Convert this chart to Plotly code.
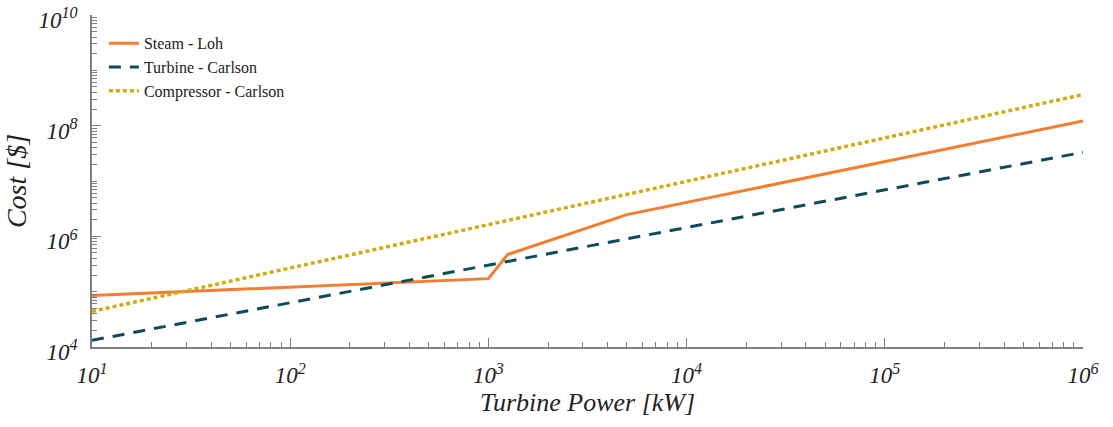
import plotly.graph_objects as go

# Data
steam_x = [10, 1000, 1250, 5000, 1e6]
steam_y = [8.5e4, 1.72e5, 4.7e5, 2.47e6, 1.22e8]
turbine_x = [10, 1e6]
turbine_y = [1.32e4, 3.3e7]
compressor_x = [10, 1e6]
compressor_y = [4.4e4, 3.65e8]

x_major = [10, 100, 1000, 1e4, 1e5, 1e6]
x_labels = ["10<sup>1</sup>", "10<sup>2</sup>", "10<sup>3</sup>", "10<sup>4</sup>", "10<sup>5</sup>", "10<sup>6</sup>"]
y_major = [1e4, 1e6, 1e8, 1e10]
y_labels = ["10<sup>4</sup>", "10<sup>6</sup>", "10<sup>8</sup>", "10<sup>10</sup>"]

x_minor = [m * 10 ** k for k in range(1, 6) for m in range(2, 10)]
y_minor = [m * 10 ** k for k in range(4, 10) for m in range(1, 10) if not (m == 1 and k % 2 == 0)]

fig = go.Figure()
fig.add_trace(go.Scatter(x=steam_x, y=steam_y, mode="lines", name="Steam - Loh",
                         line=dict(color="#F47D30", width=3)))
fig.add_trace(go.Scatter(x=turbine_x, y=turbine_y, mode="lines", name="Turbine - Carlson",
                         line=dict(color="#0E4B5A", width=3, dash="12px,9px")))
fig.add_trace(go.Scatter(x=compressor_x, y=compressor_y, mode="lines", name="Compressor - Carlson",
                         line=dict(color="#D4AA14", width=3.5, dash="4px,3px")))

serif = "Liberation Serif, Times New Roman, serif"
tick_font = dict(family=serif, size=23, color="#222222", style="italic")
xtitle_font = dict(family=serif, size=26, color="#222222", style="italic")
ytitle_font = dict(family=serif, size=28, color="#222222", style="italic")

fig.update_layout(
    template="none",
    width=1113, height=427,
    margin=dict(l=92, r=30, t=15, b=80),
    paper_bgcolor="white", plot_bgcolor="white",
    font=dict(family=serif, color="#222222"),
    showlegend=True,
    legend=dict(x=0.012, y=0.966, xanchor="left", yanchor="top",
                font=dict(family=serif, size=16, color="#222222"),
                bgcolor="rgba(255,255,255,0)", tracegroupgap=0),
    xaxis=dict(type="log", range=[1, 6], showgrid=False, zeroline=False, automargin=False,
               showline=True, linecolor="#7f7f7f", linewidth=1.5, mirror=False,
               tickmode="array", tickvals=x_major, ticktext=x_labels,
               ticks="inside", ticklen=9, tickcolor="#7f7f7f", tickwidth=1,
               tickfont=tick_font, ticklabelstandoff=7, ticklabeloverflow="allow",
               minor=dict(tickmode="array", tickvals=x_minor, ticks="inside",
                          ticklen=5, tickcolor="#7f7f7f", tickwidth=1, showgrid=False),
               title=dict(text="Turbine Power [kW]", font=xtitle_font, standoff=4)),
    yaxis=dict(type="log", range=[4, 10], showgrid=False, zeroline=False, automargin=False,
               showline=True, linecolor="#7f7f7f", linewidth=1.5, mirror=False,
               tickmode="array", tickvals=y_major, ticktext=y_labels,
               ticks="inside", ticklen=9, tickcolor="#7f7f7f", tickwidth=1,
               tickfont=tick_font, ticklabelstandoff=8, ticklabelshift=5,
               ticklabeloverflow="allow",
               minor=dict(tickmode="array", tickvals=y_minor, ticks="inside",
                          ticklen=5, tickcolor="#7f7f7f", tickwidth=1, showgrid=False),
               title=dict(text="Cost [$]", font=ytitle_font, standoff=4)),
)

fig.write_html("out.html", config={"displayModeBar": False},
               post_script="document.body.style.margin='0';")
